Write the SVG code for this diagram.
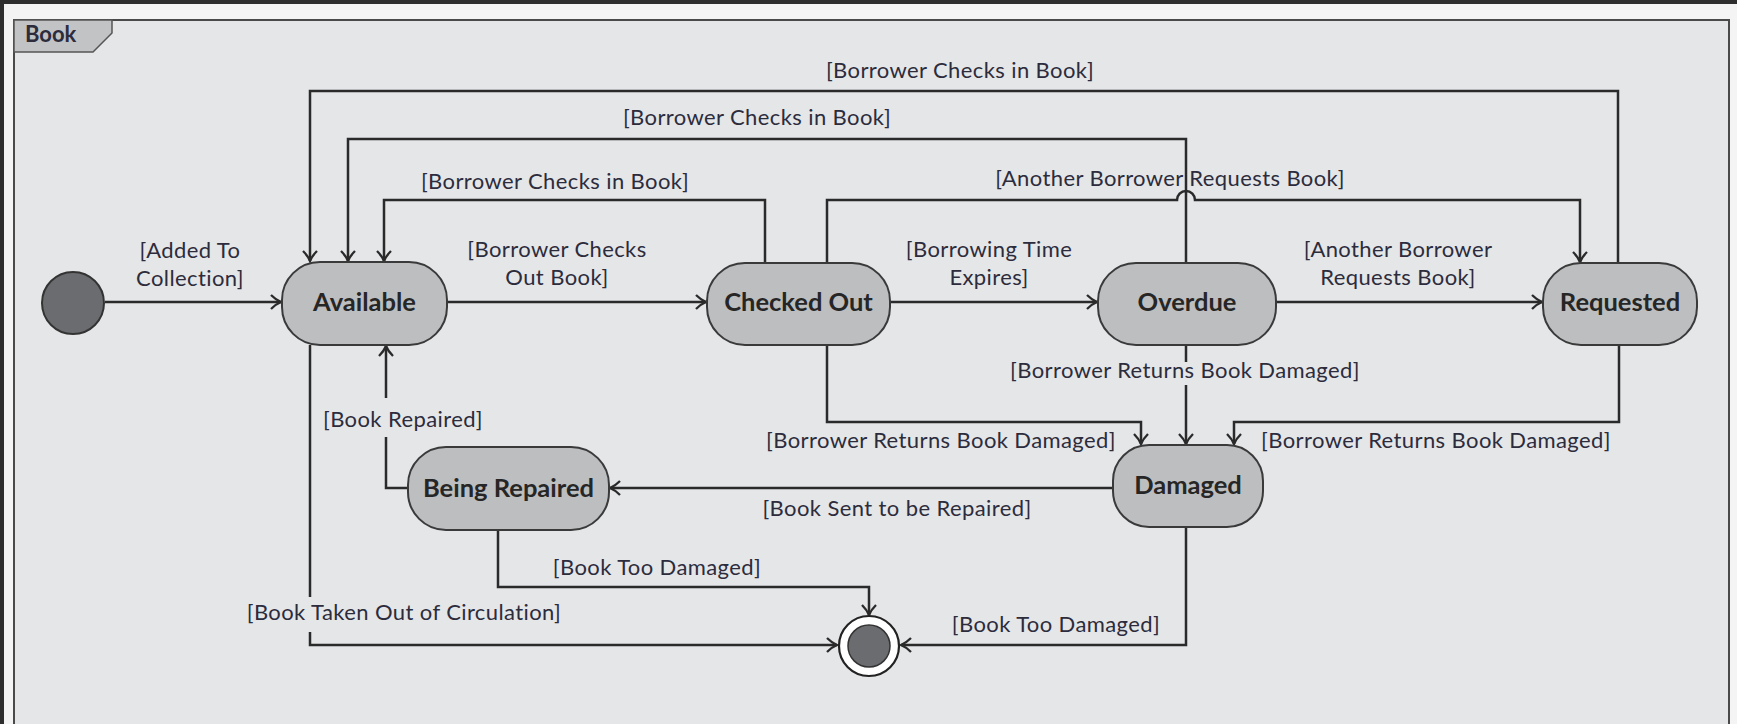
<svg xmlns="http://www.w3.org/2000/svg" width="1737" height="724" viewBox="0 0 1737 724">
<style>
.lbl{font-family:Lato,"Open Sans","Liberation Sans",sans-serif;font-size:22px;letter-spacing:0.4px;fill:#2c2c3c;text-anchor:middle}
.nm{font-family:Lato,"Open Sans","Liberation Sans",sans-serif;font-size:25.5px;font-weight:bold;fill:#262626;text-anchor:middle}
.st{fill:#bdbec0;stroke:#3a3a3a;stroke-width:2}
.cn{fill:none;stroke:#2a2a2a;stroke-width:2.5}
</style>
<defs>
<marker id="ar" markerUnits="userSpaceOnUse" markerWidth="20" markerHeight="20" viewBox="-12 -10 14 20" refX="0" refY="0" orient="auto">
<path d="M-10,-7 Q-5,-2 0,0 Q-5,2 -10,7" fill="none" stroke="#2a2a2a" stroke-width="2.3"/>
</marker>
</defs>
<rect x="0" y="0" width="1737" height="724" fill="#2e2e2e"/>
<rect x="4" y="4" width="1733" height="720" fill="#f4f4f4"/>
<rect id="frame" x="14" y="20" width="1715" height="710" fill="#e5e6e8" stroke="#4a4a4a" stroke-width="2"/>
<g id="tab">
<polygon points="14,20 112,20 112,33 93,52 14,52" fill="#c2c3c5" stroke="#555" stroke-width="1.5"/>
<text x="25" y="42" style="font-family:Lato,'Liberation Sans',sans-serif;font-size:22px;font-weight:bold;fill:#2c2c3c">Book</text>
</g>
<g id="connectors">
<path class="cn" d="M105,302 H281" marker-end="url(#ar)"/>
<path class="cn" d="M447,302 H706" marker-end="url(#ar)"/>
<path class="cn" d="M890,302 H1097" marker-end="url(#ar)"/>
<path class="cn" d="M1276,302 H1542" marker-end="url(#ar)"/>
<path class="cn" d="M1618,263 V91 H310 V261" marker-end="url(#ar)"/>
<path class="cn" d="M1186,263 V139 H348 V261" marker-end="url(#ar)"/>
<path class="cn" d="M765,263 V200 H384 V261" marker-end="url(#ar)"/>
<path class="cn" d="M827,263 V200 H1177 A9,9 0 0 1 1195,200 H1580 V262" marker-end="url(#ar)"/>
<path class="cn" d="M827,345 V422 H1141 V444" marker-end="url(#ar)"/>
<path class="cn" d="M1186,345 V362"/>
<path class="cn" d="M1186,385 V444" marker-end="url(#ar)"/>
<path class="cn" d="M1619,345 V422 H1234 V444" marker-end="url(#ar)"/>
<path class="cn" d="M1113,488 H610" marker-end="url(#ar)"/>
<path class="cn" d="M408,488 H386 V437"/>
<path class="cn" d="M386,398 V346" marker-end="url(#ar)"/>
<path class="cn" d="M498,530 V587 H869 V615" marker-end="url(#ar)"/>
<path class="cn" d="M310,345 V597"/>
<path class="cn" d="M310,632 V645 H837" marker-end="url(#ar)"/>
<path class="cn" d="M1186,527 V645 H901" marker-end="url(#ar)"/>
<text class="lbl" x="190" y="258">[Added To</text>
<text class="lbl" x="190" y="286">Collection]</text>
<text class="lbl" x="557" y="257">[Borrower Checks</text>
<text class="lbl" x="557" y="285">Out Book]</text>
<text class="lbl" x="989" y="257">[Borrowing Time</text>
<text class="lbl" x="989" y="285">Expires]</text>
<text class="lbl" x="1398" y="257">[Another Borrower</text>
<text class="lbl" x="1398" y="285">Requests Book]</text>
<text class="lbl" x="960" y="78">[Borrower Checks in Book]</text>
<text class="lbl" x="757" y="125">[Borrower Checks in Book]</text>
<text class="lbl" x="555" y="189">[Borrower Checks in Book]</text>
<text class="lbl" x="1170" y="186">[Another Borrower Requests Book]</text>
<text class="lbl" x="1185" y="378">[Borrower Returns Book Damaged]</text>
<text class="lbl" x="941" y="448">[Borrower Returns Book Damaged]</text>
<text class="lbl" x="1436" y="448">[Borrower Returns Book Damaged]</text>
<text class="lbl" x="897" y="516">[Book Sent to be Repaired]</text>
<text class="lbl" x="657" y="575">[Book Too Damaged]</text>
<text class="lbl" x="1056" y="632">[Book Too Damaged]</text>
<text class="lbl" x="404" y="620">[Book Taken Out of Circulation]</text>
<text class="lbl" x="403" y="427">[Book Repaired]</text>
</g>
<g id="initial">
<circle cx="73" cy="303" r="31" fill="#6b6c70" stroke="#333" stroke-width="2"/>
</g>
<g id="available">
<rect class="st" x="282" y="262" width="165" height="83" rx="38"/>
<text class="nm" x="364.5" y="311">Available</text>
</g>
<g id="checkedout">
<rect class="st" x="707" y="263" width="183" height="82" rx="38"/>
<text class="nm" x="798.5" y="311">Checked Out</text>
</g>
<g id="overdue">
<rect class="st" x="1098" y="263" width="178" height="82" rx="38"/>
<text class="nm" x="1187" y="311">Overdue</text>
</g>
<g id="requested">
<rect class="st" x="1543" y="263" width="154" height="82" rx="38"/>
<text class="nm" x="1620" y="311">Requested</text>
</g>
<g id="damaged">
<rect class="st" x="1113" y="445" width="150" height="82" rx="36"/>
<text class="nm" x="1188" y="494">Damaged</text>
</g>
<g id="beingrepaired">
<rect class="st" x="408" y="447" width="201" height="83" rx="38"/>
<text class="nm" x="508.5" y="497">Being Repaired</text>
</g>
<g id="final">
<circle cx="869" cy="646" r="30" fill="#ffffff" stroke="#222" stroke-width="2.2"/>
<circle cx="869" cy="646" r="21" fill="#6b6c70" stroke="#333" stroke-width="1.5"/>
</g>
</svg>
